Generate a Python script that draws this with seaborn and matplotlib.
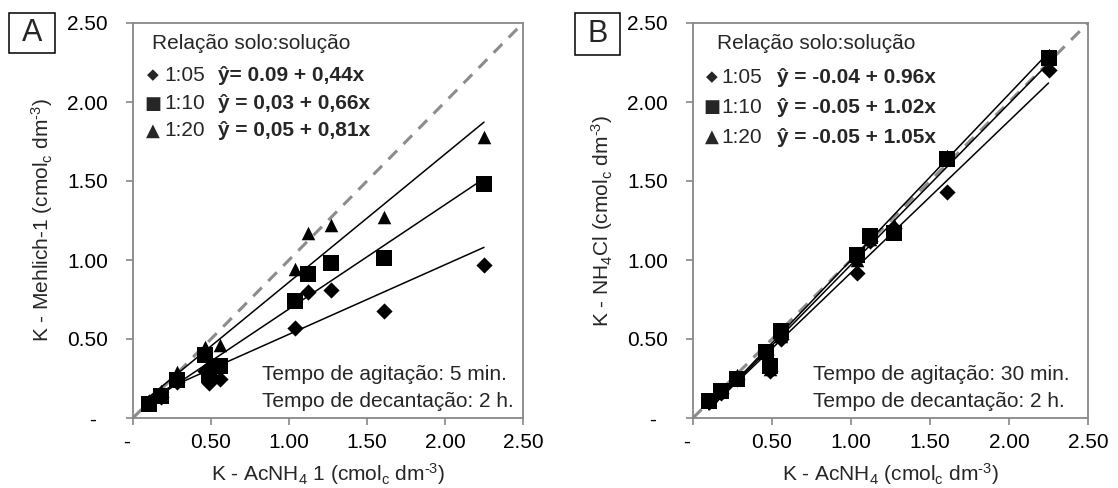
import numpy as np
import pandas as pd
import matplotlib
matplotlib.use("Agg")
import matplotlib.pyplot as plt
from matplotlib.patches import Rectangle
import seaborn as sns

sns.set_style("white")
plt.rcParams['font.family'] = ['Liberation Sans', 'DejaVu Sans']
plt.rcParams['mathtext.fontset'] = 'custom'
plt.rcParams['mathtext.rm'] = 'Liberation Sans'
plt.rcParams['mathtext.it'] = 'Liberation Sans:italic'
plt.rcParams['mathtext.bf'] = 'Liberation Sans:bold'

# ---------------- data ----------------
ratios = ["1:05", "1:10", "1:20"]
x_ac = [0.10, 0.18, 0.28, 0.46, 0.49, 0.56, 1.04, 1.12, 1.27, 1.61, 2.25]

# Panel A: K - Mehlich-1
a_105 = [0.10, 0.13, 0.23, 0.30, 0.22, 0.25, 0.57, 0.80, 0.81, 0.68, 0.97]
a_110 = [0.09, 0.14, 0.24, 0.40, 0.27, 0.33, 0.74, 0.91, 0.98, 1.01, 1.48]
a_120 = [0.11, 0.17, 0.29, 0.45, 0.35, 0.46, 0.94, 1.17, 1.22, 1.27, 1.78]
a_intercepts = [0.09, 0.03, 0.05]
a_slopes = [0.44, 0.66, 0.81]
a_eqs = ["ŷ= 0.09 + 0,44x", "ŷ = 0,03 + 0,66x", "ŷ = 0,05 + 0,81x"]

# Panel B: K - NH4Cl
b_105 = [0.10, 0.16, 0.25, 0.40, 0.30, 0.50, 0.92, 1.12, 1.20, 1.43, 2.20]
b_110 = [0.11, 0.17, 0.25, 0.42, 0.33, 0.55, 1.03, 1.15, 1.17, 1.64, 2.28]
b_120 = [0.11, 0.17, 0.27, 0.43, 0.31, 0.52, 1.00, 1.13, 1.22, 1.66, 2.30]
b_intercepts = [-0.04, -0.05, -0.05]
b_slopes = [0.96, 1.02, 1.05]
b_eqs = ["ŷ = -0.04 + 0.96x", "ŷ = -0.05 + 1.02x", "ŷ = -0.05 + 1.05x"]

ticks = [0, 0.5, 1.0, 1.5, 2.0, 2.5]
tick_labels = ["-  ", "0.50", "1.00", "1.50", "2.00", "2.50"]

# ---------------- styles ----------------
FS = 15
GRAY = "#888888"
markers = {"1:05": "D", "1:10": "s", "1:20": "^"}
msizes = {"1:05": 68, "1:10": 120, "1:20": 95}
legend_glyph = {"1:05": "\u25C6", "1:10": "\u25A0", "1:20": "\u25B2"}
draw_order = ["1:05", "1:20", "1:10"]

fig = plt.figure(figsize=(11.18, 4.88), dpi=100)
axA = fig.add_axes([133 / 1118, 1 - 418 / 488, 390 / 1118, 395 / 488])
axB = fig.add_axes([693 / 1118, 1 - 418 / 488, 395 / 1118, 395 / 488])


def build_df(ys):
    rows = []
    for r, yv in zip(ratios, ys):
        for xv, v in zip(x_ac, yv):
            rows.append({"x": xv, "y": v, "ratio": r})
    return pd.DataFrame(rows)


def draw_panel(ax, ys, intercepts, slopes, eqs, xlabel, ylabel, eq_x, row_y,
               mk_x, lab_x, title_x, foot_x, foot1):
    df = build_df(ys)
    # 1:1 reference line
    ref = pd.DataFrame({"x": [0, 2.5], "y": [0, 2.5]})
    sns.lineplot(data=ref, x="x", y="y", ax=ax, color="#8c8c8c", lw=2.2,
                 linestyle=(0, (4, 3)), zorder=1)
    for r in draw_order:
        sub = df[df.ratio == r]
        sns.scatterplot(data=sub, x="x", y="y", ax=ax, marker=markers[r],
                        s=msizes[r], color="black", edgecolor="black",
                        linewidth=0, zorder=3, legend=False)
    # trend lines
    xmin, xmax = min(x_ac), max(x_ac)
    for r, a, b in zip(ratios, intercepts, slopes):
        tl = pd.DataFrame({"x": [xmin, xmax], "y": [a + b * xmin, a + b * xmax]})
        sns.lineplot(data=tl, x="x", y="y", ax=ax, color="black", lw=1.1,
                     zorder=4)
    ax.set_xlim(0, 2.5)
    ax.set_ylim(0, 2.5)
    ax.set_xticks(ticks)
    ax.set_xticklabels(tick_labels)
    ax.set_yticks(ticks)
    ax.set_yticklabels(tick_labels)
    ax.tick_params(axis="both", direction="out", length=5, width=1.2,
                   color=GRAY, labelsize=FS, labelcolor="black")
    ax.tick_params(axis="x", pad=6)
    ax.tick_params(axis="y", pad=13)
    ax.xaxis.set_ticks_position("bottom")
    ax.yaxis.set_ticks_position("left")
    for sp in ax.spines.values():
        sp.set_visible(True)
        sp.set_color(GRAY)
        sp.set_linewidth(1.3)
    ax.set_xlabel(xlabel, fontsize=FS, labelpad=6)
    ax.set_ylabel(ylabel, fontsize=FS, labelpad=9)
    ax.grid(False)
    # legend-like annotations
    ax.text(title_x, 0.949, "Relação solo:solução", transform=ax.transAxes,
            fontsize=FS, ha="left", va="center")
    for r, eq, yy in zip(ratios, eqs, row_y):
        gs = 11 if r == "1:05" else 13
        ax.text(mk_x, yy, legend_glyph[r], transform=ax.transAxes,
                fontsize=gs, ha="center", va="center",
                family=["DejaVu Sans"])
        ax.text(lab_x, yy, r, transform=ax.transAxes, fontsize=FS,
                ha="left", va="center")
        ax.text(eq_x, yy, eq, transform=ax.transAxes, fontsize=FS,
                ha="left", va="center", fontweight="bold")
    ax.text(foot_x, 0.109, foot1, transform=ax.transAxes, fontsize=FS,
            ha="left", va="center")
    ax.text(foot_x, 0.041, "Tempo de decantação: 2 h.", transform=ax.transAxes,
            fontsize=FS, ha="left", va="center")


SUP = "$^{\\mathregular{\u2010 3}}$"
draw_panel(axA, [a_105, a_110, a_120], a_intercepts, a_slopes, a_eqs,
           "K - AcNH$_4$ 1 (cmol$_\\mathregular{c}$ dm" + SUP + ")",
           "K - Mehlich-1 (cmol$_\\mathregular{c}$ dm" + SUP + ")",
           eq_x=0.218, row_y=[0.868, 0.795, 0.727], mk_x=0.052, lab_x=0.080,
           title_x=0.049, foot_x=0.331, foot1="Tempo de agitação: 5 min.")
draw_panel(axB, [b_105, b_110, b_120], b_intercepts, b_slopes, b_eqs,
           "K - AcNH$_4$ (cmol$_\\mathregular{c}$ dm" + SUP + ")",
           "K - NH$_4$Cl (cmol$_\\mathregular{c}$ dm" + SUP + ")",
           eq_x=0.213, row_y=[0.863, 0.787, 0.711], mk_x=0.048, lab_x=0.072,
           title_x=0.061, foot_x=0.304, foot1="Tempo de agitação: 30 min.")

# panel letters in boxes
for (x0, y0, w, h, lab) in [(9, 13, 46, 40, "A"), (575, 13, 45, 42, "B")]:
    fig.patches.append(Rectangle((x0 / 1118, 1 - (y0 + h) / 488), w / 1118, h / 488,
                                 transform=fig.transFigure, fill=False,
                                 edgecolor="black", lw=1.1))
    fig.text((x0 + w / 2) / 1118, 1 - (y0 + h / 2) / 488, lab, fontsize=22,
             ha="center", va="center")

fig.savefig("out.png", dpi=100)
